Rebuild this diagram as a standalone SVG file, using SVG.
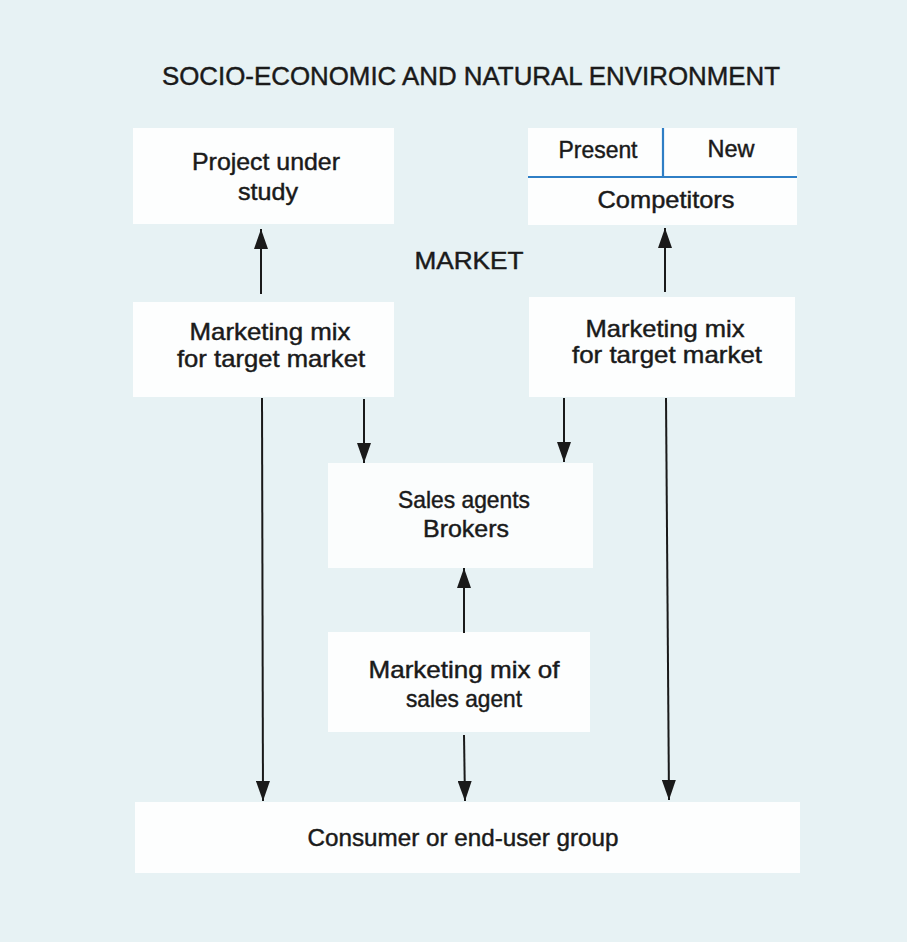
<svg xmlns="http://www.w3.org/2000/svg" width="907" height="942" viewBox="0 0 907 942">
<defs>
<style>
.bg{fill:#e7f2f4}
.box{fill:#fdfefe}
.faint{fill:#fbfdfd}
text{font-family:"Liberation Sans",Arial,sans-serif;fill:#1a1a1a;stroke:#1a1a1a;stroke-width:0.45;text-anchor:middle}
.t{font-size:24px}
.title{font-size:26px}
.con{stroke:#1a1a1a;stroke-width:2;fill:none}
.blue{stroke:#2f7fc6;stroke-width:2.2;fill:none}
</style>
<marker id="ah" viewBox="0 0 20 14" refX="20" refY="7" markerWidth="20" markerHeight="14" markerUnits="userSpaceOnUse" orient="auto">
<path d="M0,0 L20,7 L0,14 z" fill="#1a1a1a"/>
</marker>
</defs>
<rect class="bg" x="0" y="0" width="907" height="942"/>
<text class="title" x="471" y="85" textLength="618" lengthAdjust="spacingAndGlyphs">SOCIO-ECONOMIC AND NATURAL ENVIRONMENT</text>
<text class="t" x="469" y="269" textLength="109" lengthAdjust="spacingAndGlyphs">MARKET</text>

<g id="project">
<rect class="box" x="133" y="128" width="261" height="96"/>
<text class="t" x="266" y="170" textLength="148" lengthAdjust="spacingAndGlyphs">Project under</text>
<text class="t" x="268" y="200" textLength="60" lengthAdjust="spacingAndGlyphs">study</text>
</g>

<g id="competitors">
<rect class="box" x="528" y="128" width="269" height="97"/>
<path class="blue" d="M663,128 V177 M528,177 H797"/>
<text class="t" x="598" y="158" textLength="79" lengthAdjust="spacingAndGlyphs">Present</text>
<text class="t" x="731" y="157" textLength="47" lengthAdjust="spacingAndGlyphs">New</text>
<text class="t" x="666" y="208" textLength="137" lengthAdjust="spacingAndGlyphs">Competitors</text>
</g>

<g id="mix-left">
<rect class="box" x="133" y="302" width="261" height="95"/>
<text class="t" x="270" y="340" textLength="161" lengthAdjust="spacingAndGlyphs">Marketing mix</text>
<text class="t" x="271" y="367" textLength="188" lengthAdjust="spacingAndGlyphs">for target market</text>
</g>

<g id="mix-right">
<rect class="box" x="529" y="297" width="266" height="100"/>
<text class="t" x="665" y="337" textLength="159" lengthAdjust="spacingAndGlyphs">Marketing mix</text>
<text class="t" x="667" y="363" textLength="190" lengthAdjust="spacingAndGlyphs">for target market</text>
</g>

<g id="sales-agents">
<rect class="faint" x="328" y="463" width="265" height="105"/>
<text class="t" x="464" y="508" textLength="132" lengthAdjust="spacingAndGlyphs">Sales agents</text>
<text class="t" x="466" y="537" textLength="86" lengthAdjust="spacingAndGlyphs">Brokers</text>
</g>

<g id="mix-agent">
<rect class="box" x="328" y="632" width="262" height="100"/>
<text class="t" x="464" y="678" textLength="191" lengthAdjust="spacingAndGlyphs">Marketing mix of</text>
<text class="t" x="464" y="707" textLength="116" lengthAdjust="spacingAndGlyphs">sales agent</text>
</g>

<g id="consumer">
<rect class="box" x="135" y="802" width="665" height="71"/>
<text class="t" x="463" y="846" textLength="311" lengthAdjust="spacingAndGlyphs">Consumer or end-user group</text>
</g>

<g id="connectors">
<line class="con" x1="261" y1="294" x2="261" y2="229" marker-end="url(#ah)"/>
<line class="con" x1="665" y1="292" x2="665" y2="228" marker-end="url(#ah)"/>
<line class="con" x1="262" y1="398" x2="263" y2="801" marker-end="url(#ah)"/>
<line class="con" x1="666" y1="398" x2="669" y2="800" marker-end="url(#ah)"/>
<line class="con" x1="364" y1="399" x2="364" y2="463" marker-end="url(#ah)"/>
<line class="con" x1="564" y1="398" x2="564" y2="462" marker-end="url(#ah)"/>
<line class="con" x1="464" y1="633" x2="464" y2="568" marker-end="url(#ah)"/>
<line class="con" x1="464" y1="735" x2="465" y2="801" marker-end="url(#ah)"/>
</g>
</svg>
